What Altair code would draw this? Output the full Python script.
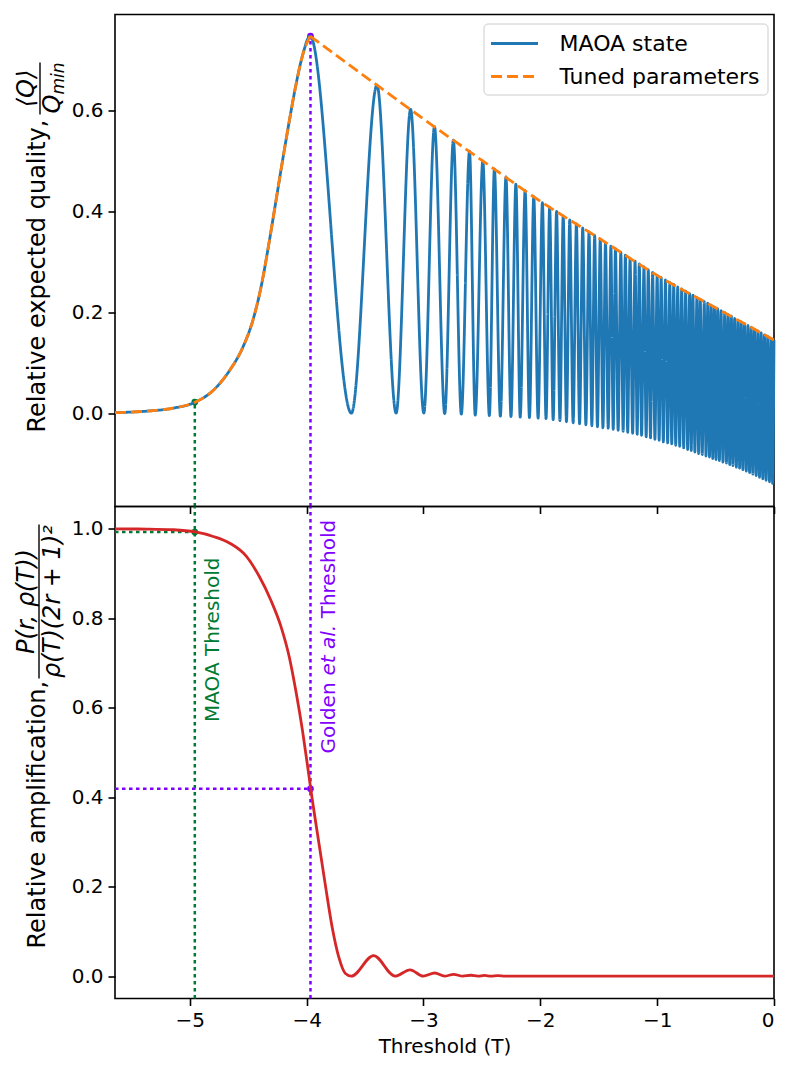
import altair as alt
import pandas as pd

FONT = "DejaVu Sans"
X_DOM = [-5.64, 0.0]
TOP_DOM = [-0.185, 0.790]
BOT_DOM = [-0.05, 1.05]
W, H = 659, 492
BLUE, ORANGE, RED = "#1f77b4", "#ff7f0e", "#d62728"
GREEN, PURPLE = "#007a33", "#8000ff"

# ---------------- data ----------------
# rising part (shared by MAOA state and tuned parameters)
rise_T = [-5.64, -5.367, -5.14, -4.951, -4.80, -4.658, -4.545, -4.46, -4.39,
          -4.325, -4.263, -4.205, -4.149, -4.092, -4.036]
rise_Q = [0.001, 0.004, 0.010, 0.022, 0.045, 0.085, 0.131, 0.184, 0.250,
          0.333, 0.420, 0.502, 0.578, 0.650, 0.708]

# oscillation maxima of the MAOA state
peak_T = [-3.970, -3.398, -3.110, -2.906, -2.744, -2.606, -2.492, -2.393, -2.294,
          -2.209, -2.130, -2.056, -1.982, -1.920, -1.861, -1.804, -1.748, -1.691,
          -1.637, -1.583, -1.535, -1.487, -1.442, -1.396, -1.357, -1.311, -1.272,
          -1.232, -1.189, -1.153, -1.113, -1.076, -1.039, -1.000, -0.966, -0.929,
          -0.892, -0.858, -0.824, -0.790, -0.756, -0.722, -0.694, -0.660, -0.631,
          -0.597, -0.567, -0.538, -0.510, -0.482, -0.453, -0.422, -0.393, -0.365,
          -0.337, -0.308, -0.280, -0.252, -0.223, -0.195, -0.167, -0.138, -0.110,
          -0.082, -0.054, -0.025, 0.000]
peak_Q = [0.747, 0.650, 0.602, 0.568, 0.541, 0.519, 0.500, 0.484, 0.468,
          0.454, 0.441, 0.429, 0.417, 0.408, 0.400, 0.391, 0.383, 0.375,
          0.367, 0.359, 0.352, 0.345, 0.338, 0.331, 0.326, 0.319, 0.313,
          0.307, 0.301, 0.296, 0.290, 0.284, 0.279, 0.273, 0.269, 0.264,
          0.259, 0.255, 0.250, 0.246, 0.242, 0.237, 0.234, 0.229, 0.226,
          0.221, 0.218, 0.214, 0.210, 0.207, 0.203, 0.199, 0.195, 0.192,
          0.188, 0.184, 0.181, 0.177, 0.174, 0.170, 0.166, 0.163, 0.159,
          0.155, 0.152, 0.148, 0.145]

# oscillation minima of the MAOA state
trough_T = [-3.617, -3.234, -2.997, -2.818, -2.676, -2.557, -2.436, -2.342, -2.251,
            -2.172, -2.093, -2.019, -1.951, -1.890, -1.832, -1.776, -1.719, -1.664,
            -1.610, -1.559, -1.511, -1.464, -1.419, -1.376, -1.334, -1.291, -1.252,
            -1.210, -1.171, -1.133, -1.094, -1.057, -1.019, -0.983, -0.947, -0.910,
            -0.875, -0.841, -0.807, -0.773, -0.739, -0.708, -0.677, -0.645, -0.614,
            -0.582, -0.552, -0.524, -0.496, -0.467, -0.437, -0.407, -0.379, -0.351,
            -0.322, -0.294, -0.266, -0.237, -0.209, -0.181, -0.152, -0.124, -0.096,
            -0.068, -0.039, -0.012]
trough_Q = [0.000, 0.000, 0.000, -0.001, -0.002, -0.004, -0.005, -0.006, -0.007,
            -0.008, -0.009, -0.010, -0.011, -0.013, -0.015, -0.017, -0.019, -0.021,
            -0.023, -0.025, -0.027, -0.029, -0.030, -0.032, -0.034, -0.036, -0.038,
            -0.040, -0.042, -0.044, -0.047, -0.049, -0.052, -0.054, -0.057, -0.059,
            -0.061, -0.064, -0.066, -0.069, -0.072, -0.074, -0.077, -0.080, -0.082,
            -0.085, -0.087, -0.090, -0.092, -0.094, -0.097, -0.099, -0.102, -0.104,
            -0.107, -0.109, -0.112, -0.115, -0.118, -0.121, -0.124, -0.127, -0.130,
            -0.133, -0.136, -0.139]

# tuned-parameters envelope after the maximum
env_T = [-3.970, -3.398, -3.0, -2.5, -2.0, -1.5, -1.0, -0.5, 0.0]
env_Q = [0.747, 0.650, 0.583, 0.501, 0.420, 0.347, 0.273, 0.209, 0.145]

# relative amplification (bottom panel)
amp_T = [-5.64, -5.367, -5.14, -4.951, -4.80, -4.658, -4.517, -4.406, -4.307,
         -4.220, -4.149, -4.087, -4.036, -3.993, -3.965, -3.894, -3.837, -3.781,
         -3.724, -3.668, -3.617, -3.427, -3.243, -3.115, -3.002, -2.903, -2.820,
         -2.742, -2.664, -2.594, -2.535, -2.478, -2.421, -2.364, -2.30, -1.5, 0.0]
amp_A = [1.000, 0.9995, 0.998, 0.993, 0.983, 0.968, 0.939, 0.894, 0.841,
         0.782, 0.714, 0.630, 0.550, 0.472, 0.419, 0.296, 0.199, 0.109,
         0.042, 0.006, 0.000, 0.046, 0.000, 0.014, 0.000, 0.007, 0.000,
         0.004, 0.000, 0.002, 0.000, 0.0015, 0.000, 0.001, 0.000, 0.000, 0.000]

maoa_thr, golden_thr = -4.957, -3.967
maoa_q, golden_q = 0.022, 0.747
maoa_amp, golden_amp = 0.993, 0.419

series_names = ["MAOA state", "Tuned parameters"]

# ---------------- tables ----------------
maoa_pts = sorted(list(zip(rise_T, rise_Q)) + list(zip(peak_T, peak_Q)) + list(zip(trough_T, trough_Q)))
maoa_df = pd.DataFrame({"T": [p[0] for p in maoa_pts], "Q": [p[1] for p in maoa_pts],
                        "series": series_names[0], "seg": "a"})
tuned_df = pd.concat([
    pd.DataFrame({"T": rise_T + [peak_T[0]], "Q": rise_Q + [peak_Q[0]], "series": series_names[1], "seg": "rise"}),
    pd.DataFrame({"T": env_T, "Q": env_Q, "series": series_names[1], "seg": "env"}),
], ignore_index=True)
amp_df = pd.DataFrame({"T": amp_T, "A": amp_A})

xs = alt.Scale(domain=X_DOM, nice=False, zero=False)
ys_top = alt.Scale(domain=TOP_DOM, nice=False, zero=False)
ys_bot = alt.Scale(domain=BOT_DOM, nice=False, zero=False)
col_scale = alt.Scale(domain=series_names, range=[BLUE, ORANGE])
dash_scale = alt.Scale(domain=series_names, range=[[1, 0], [11, 5]])

DOT = [3.5, 3.5]
LEFT, TOP1, TOP2 = 114.5, 14, 506

# ---------------- top panel ----------------
x_top = alt.X("T:Q", scale=xs, axis=alt.Axis(values=[-5, -4, -3, -2, -1, 0], labels=False, title=None))
y_top = alt.Y("Q:Q", scale=ys_top, axis=alt.Axis(values=[0, 0.2, 0.4, 0.6], format=".1f", title=None))

def vrule_top(t, q, col):
    return alt.Chart(pd.DataFrame({"T": [t], "y1": [TOP_DOM[0]], "y2": [q]})).mark_rule(
        strokeWidth=2.5, strokeDash=DOT, color=col).encode(
        x=alt.X("T:Q", scale=xs), y=alt.Y("y1:Q", scale=ys_top), y2="y2:Q")
def dot_top(t, q, col):
    return alt.Chart(pd.DataFrame({"T": [t], "Q": [q]})).mark_point(
        filled=True, size=45, opacity=1, color=col).encode(
        x=alt.X("T:Q", scale=xs), y=alt.Y("Q:Q", scale=ys_top))

# long horizontal legend sample (custom path) on a compact row
legend = alt.Legend(title=None, orient="none", legendX=483 - LEFT, legendY=23 - TOP1,
                    symbolType="M-2.1,0H2.1",
                    symbolSize=500, symbolStrokeWidth=2.8, symbolOffset=11,
                    labelFontSize=22, labelFont=FONT, labelLimit=400, labelOffset=32,
                    fillColor="rgba(255,255,255,0.85)", strokeColor="#cccccc",
                    cornerRadius=4, padding=7, rowPadding=9)
t_maoa = alt.Chart(maoa_df).mark_line(strokeWidth=2.8, interpolate="monotone").encode(
    x=x_top, y=y_top, detail="seg:N",
    color=alt.Color("series:N", scale=col_scale, legend=legend),
    strokeDash=alt.StrokeDash("series:N", scale=dash_scale, legend=legend))
t_tuned = alt.Chart(tuned_df).mark_line(strokeWidth=2.8, interpolate="monotone").encode(
    x=x_top, y=y_top, detail="seg:N",
    color=alt.Color("series:N", scale=col_scale, legend=legend),
    strokeDash=alt.StrokeDash("series:N", scale=dash_scale, legend=legend))

# y title (text + fraction), pixel offsets from plot origin
def ptxt(text, px, py, panel_top, size=24, italic=False, align="center", baseline="alphabetic"):
    return alt.Chart(pd.DataFrame({"t": [text]})).mark_text(
        angle=270, font=FONT, fontSize=size, fontStyle="italic" if italic else "normal",
        align=align, baseline=baseline, color="black").encode(
        x=alt.value(px - LEFT), y=alt.value(py - panel_top), text="t:N")
def pbar(px, py1, py2, panel_top):
    return alt.Chart(pd.DataFrame({"a": [0]})).mark_rule(color="black", strokeWidth=1.4).encode(
        x=alt.value(px - LEFT), y=alt.value(py1 - panel_top), y2=alt.value(py2 - panel_top))
# invisible anchor fixing the left edge of the drawing
anchor = alt.Chart(pd.DataFrame({"a": [0]})).mark_rule(strokeOpacity=0, strokeWidth=1).encode(
    x=alt.value(8.5 - LEFT), y=alt.value(200), y2=alt.value(210))

top_title = [
    ptxt("Relative expected quality,", 44, 432, TOP1, align="left"),
    ptxt("\u27e8Q\u27e9", 33, 88, TOP1, italic=True),
    pbar(39.5, 62, 114, TOP1),
    ptxt("Q", 59, 113, TOP1, italic=True, align="left"),
    ptxt("min", 63, 94, TOP1, size=17, italic=True, align="left"),
]

top = alt.layer(
    anchor,
    vrule_top(maoa_thr, maoa_q, GREEN), vrule_top(golden_thr, golden_q, PURPLE),
    dot_top(maoa_thr, maoa_q, GREEN), dot_top(golden_thr, golden_q, PURPLE),
    t_maoa, t_tuned, *top_title).properties(width=W, height=H)

# ---------------- bottom panel ----------------
def rule_bot(x1, x2, y1, y2, col):
    return alt.Chart(pd.DataFrame({"x1": [x1], "x2": [x2], "y1": [y1], "y2": [y2]})).mark_rule(
        strokeWidth=2.5, strokeDash=DOT, color=col).encode(
        x=alt.X("x1:Q", scale=xs), x2="x2:Q", y=alt.Y("y1:Q", scale=ys_bot), y2="y2:Q")
def dot_bot(t, a, col):
    return alt.Chart(pd.DataFrame({"T": [t], "A": [a]})).mark_point(
        filled=True, size=45, opacity=1, color=col).encode(
        x=alt.X("T:Q", scale=xs), y=alt.Y("A:Q", scale=ys_bot))

b_line = alt.Chart(amp_df).mark_line(color=RED, strokeWidth=2.8, interpolate="monotone").encode(
    x=alt.X("T:Q", scale=xs, axis=alt.Axis(values=[-5, -4, -3, -2, -1, 0], format="d",
                                           title="Threshold (T)")),
    y=alt.Y("A:Q", scale=ys_bot, axis=alt.Axis(values=[0, 0.2, 0.4, 0.6, 0.8, 1.0], format=".1f", title=None)))

def ann(text, t, a, col, style="normal"):
    return alt.Chart(pd.DataFrame({"T": [t], "A": [a], "t": [text]})).mark_text(
        angle=270, align="left", baseline="top", fontSize=20, font=FONT,
        fontStyle=style, color=col).encode(
        x=alt.X("T:Q", scale=xs), y=alt.Y("A:Q", scale=ys_bot), text="t:N")

bot_title = [
    ptxt("Relative amplification,", 44, 948, TOP2, align="left"),
    ptxt("P(r, \u03c1(T))", 33, 601, TOP2, italic=True),
    pbar(38.5, 524, 678, TOP2),
    ptxt("\u03c1(T)(2r + 1)\u00b2", 59, 601, TOP2, italic=True),
]

bottom = alt.layer(
    rule_bot(maoa_thr, maoa_thr, BOT_DOM[0], BOT_DOM[1], GREEN),
    rule_bot(golden_thr, golden_thr, BOT_DOM[0], BOT_DOM[1], PURPLE),
    rule_bot(X_DOM[0], maoa_thr, maoa_amp, maoa_amp, GREEN),
    rule_bot(X_DOM[0], golden_thr, golden_amp, golden_amp, PURPLE),
    dot_bot(maoa_thr, maoa_amp, GREEN), dot_bot(golden_thr, golden_amp, PURPLE),
    b_line,
    ann("MAOA Threshold", -4.885, 0.568, GREEN),
    ann("Golden", -3.894, 0.498, PURPLE),
    ann("et al.", -3.894, 0.672, PURPLE, "italic"),
    ann("Threshold", -3.894, 0.800, PURPLE),
    *bot_title).properties(width=W, height=H)

chart = alt.vconcat(top, bottom, spacing=0, bounds="flush").resolve_scale(
    color="independent", strokeDash="independent"
).properties(padding={"left": 0, "top": 5.5, "right": 0, "bottom": 0}).configure(
    font=FONT
).configure_view(
    stroke="black", strokeWidth=1.6
).configure_axis(
    labelFontSize=20, labelFont=FONT, labelColor="black", tickColor="black", tickSize=7,
    tickWidth=1.6, domain=False, grid=False, labelPadding=5, titleFontSize=20,
    titleFont=FONT, titleFontWeight="normal", titleColor="black", titlePadding=6
)

chart.save("out.html", embed_options={"renderer": "svg", "actions": False})
